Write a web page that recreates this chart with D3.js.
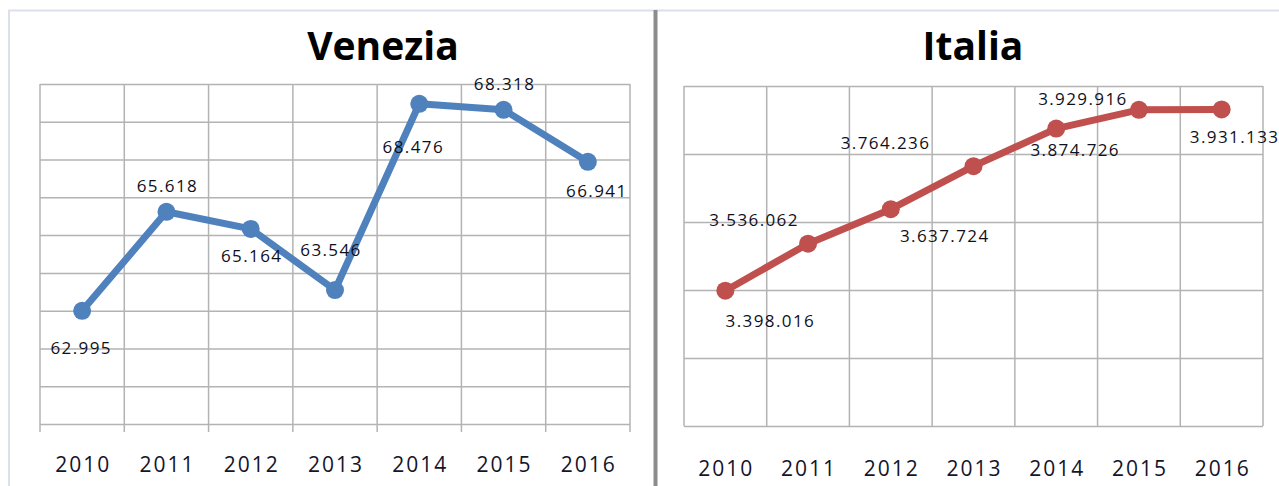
<!DOCTYPE html>
<html>
<head>
<meta charset="utf-8">
<script src="https://cdn.jsdelivr.net/npm/d3@7/dist/d3.min.js"></script>
<style>
  body { margin: 0; background: #fff; }
  svg { display: block; }
  text { font-family: "Open Sans", sans-serif; }
</style>
</head>
<body>
<div id="chart"></div>
<script>
// data
var years = ["2010", "2011", "2012", "2013", "2014", "2015", "2016"];
var veneziaValues = [62995, 65618, 65164, 63546, 68476, 68318, 66941];
var italiaValues = [3398016, 3536062, 3637724, 3764236, 3874726, 3929916, 3931133];
var veneziaTicks = [60000, 61000, 62000, 63000, 64000, 65000, 66000, 67000, 68000, 69000];
var italiaTicks = [3000000, 3200000, 3400000, 3600000, 3800000, 4000000];

// label placement (dx, dy from the marker)
var veneziaLabelPos = [[-2, 37], [0, -26], [0, 27], [-5, -40], [-7, 43], [0, -26], [8, 29]];
var italiaLabelPos = [[44, 30], [-55, -24], [53, 27], [-89, -23], [18, 21], [-57, -11], [12, 28]];

var width = 1279, height = 486;
var fmt = d3.formatLocale({ decimal: ",", thousands: ".", grouping: [3] }).format(",d");

var svg = d3.select("#chart").append("svg")
  .attr("width", width)
  .attr("height", height);

// frame
svg.append("line").attr("x1", 8).attr("x2", width).attr("y1", 10.5).attr("y2", 10.5)
  .attr("stroke", "#dbe0ea").attr("stroke-width", 2);
svg.append("line").attr("x1", 9).attr("x2", 9).attr("y1", 10).attr("y2", height)
  .attr("stroke", "#dbe0ea").attr("stroke-width", 2);
svg.append("line").attr("x1", 655.5).attr("x2", 655.5).attr("y1", 10).attr("y2", height)
  .attr("stroke", "#8c8c8c").attr("stroke-width", 4);

function drawChart(opts) {
  var x = d3.scaleBand().domain(years).range([opts.left, opts.right]);
  var y = d3.scaleLinear().domain(d3.extent(opts.ticks)).range([opts.bottom, opts.top]);
  var g = svg.append("g");

  // title
  g.append("text")
    .attr("x", opts.titleX).attr("y", 60)
    .attr("text-anchor", "middle")
    .attr("font-size", 39).attr("font-weight", "bold")
    .attr("fill", "#000")
    .text(opts.title);

  // horizontal grid
  g.append("g").call(d3.axisLeft(y).tickValues(opts.ticks)
      .tickSize(-(opts.right - opts.left)).tickFormat(""))
    .attr("transform", "translate(" + opts.left + ",0)")
    .call(function (s) {
      s.select(".domain").remove();
      s.selectAll("line").attr("stroke", "#b3b3b3").attr("stroke-width", 1.5);
    });

  // vertical grid at category boundaries
  var bounds = years.map(function (d) { return x(d); }).concat([opts.right]);
  g.selectAll(".vgrid").data(bounds).enter().append("line")
    .attr("x1", function (d) { return d; }).attr("x2", function (d) { return d; })
    .attr("y1", opts.top).attr("y2", opts.bottom + opts.tickOut)
    .attr("stroke", "#b3b3b3").attr("stroke-width", 1.5);

  // x axis labels
  g.append("g").attr("transform", "translate(1," + opts.bottom + ")")
    .call(d3.axisBottom(x).tickSize(0).tickPadding(opts.labelPad))
    .call(function (s) {
      s.select(".domain").remove();
      s.selectAll("text").attr("font-size", 21).attr("fill", "#14142a")
        .attr("letter-spacing", 2)
        .attr("font-family", "'Open Sans', sans-serif");
    });

  var cx = function (d, i) { return x(years[i]) + x.bandwidth() / 2; };

  var line = d3.line()
    .x(function (d, i) { return cx(d, i); })
    .y(function (d) { return y(d); });

  g.append("path").datum(opts.values)
    .attr("d", line)
    .attr("fill", "none")
    .attr("stroke", opts.color)
    .attr("stroke-width", 7)
    .attr("stroke-linejoin", "round");

  g.selectAll(".pt").data(opts.values).enter().append("circle")
    .attr("cx", cx).attr("cy", function (d) { return y(d); })
    .attr("r", 9).attr("fill", opts.color);

  g.selectAll(".lbl").data(opts.values).enter().append("text")
    .attr("x", function (d, i) { return cx(d, i) + opts.labelPos[i][0] + 1; })
    .attr("y", function (d, i) { return y(d) + opts.labelPos[i][1]; })
    .attr("dy", "0.35em")
    .attr("text-anchor", "middle")
    .attr("font-size", 17)
    .attr("letter-spacing", 1.4)
    .attr("fill", "#10101c")
    .text(function (d) { return fmt(d); });
}

drawChart({
  title: "Venezia", titleX: 383,
  left: 40, right: 630, top: 84, bottom: 424, tickOut: 8, labelPad: 33,
  values: veneziaValues, ticks: veneziaTicks, labelPos: veneziaLabelPos,
  color: "#4f81bd"
});

drawChart({
  title: "Italia", titleX: 973,
  left: 684, right: 1263, top: 86, bottom: 426, tickOut: 0, labelPad: 35,
  values: italiaValues, ticks: italiaTicks, labelPos: italiaLabelPos,
  color: "#c0504d"
});
</script>
</body>
</html>
